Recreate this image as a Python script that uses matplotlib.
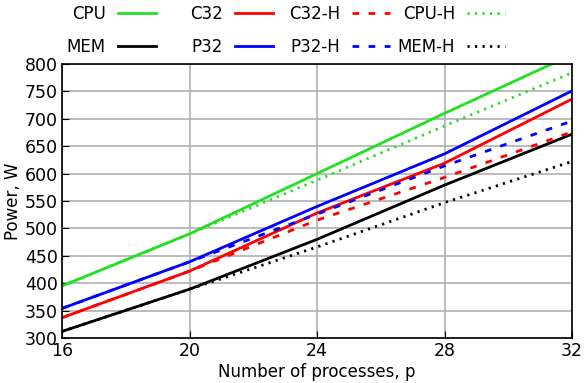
import matplotlib
matplotlib.use("Agg")
import matplotlib.pyplot as plt

# ======================
# Data
# ======================
procs = [16, 20, 24, 28, 32]

cpu = [395, 490, 600, 710, 817]
mem = [312, 389, 480, 579, 672]
c32 = [337, 422, 528, 619, 736]
p32 = [354, 439, 540, 636, 751]

c32_h = [337, 422, 515, 593, 676]
p32_h = [354, 439, 526, 614, 696]
cpu_h = [395, 490, 588, 687, 784]
mem_h = [312, 389, 466, 547, 622]

GREEN = '#22e022'
DASH = (2.4, 3.4)
DOT = (0.8, 1.9)

# ======================
# Figure
# ======================
plt.rcParams['font.family'] = 'DejaVu Sans'
plt.rcParams['font.size'] = 12

fig = plt.figure(figsize=(5.84, 3.83), dpi=100)
ax = fig.add_axes([62 / 584, 1 - 338 / 383, 510 / 584, 274 / 383])

l_cpu, = ax.plot(procs, cpu, color=GREEN, lw=2, label='CPU')
l_mem, = ax.plot(procs, mem, color='k', lw=2, label='MEM')
l_c32, = ax.plot(procs, c32, color='r', lw=2, label='C32')
l_p32, = ax.plot(procs, p32, color='b', lw=2, label='P32')
l_c32h, = ax.plot(procs, c32_h, color='r', lw=2, dashes=DASH, label='C32-H')
l_p32h, = ax.plot(procs, p32_h, color='b', lw=2, dashes=DASH, label='P32-H')
l_cpuh, = ax.plot(procs, cpu_h, color=GREEN, lw=2, dashes=DOT, label='CPU-H')
l_memh, = ax.plot(procs, mem_h, color='k', lw=2, dashes=DOT, label='MEM-H')

ax.set_xlim(16, 32)
ax.set_ylim(300, 800)
ax.set_xticks([16, 20, 24, 28, 32])
ax.set_yticks(range(300, 801, 50))
ax.tick_params(direction='in', length=5, labelsize=12.5, pad=3)
ax.grid(True, color='#b0b0b0', lw=1.2)
ax.set_axisbelow(True)
for s in ax.spines.values():
    s.set_linewidth(1.2)

ax.set_xlabel('Number of processes, p', fontsize=12, labelpad=2)
ax.set_ylabel('Power, W', fontsize=12, labelpad=2)

# legend: one small legend per column (columns are not evenly spaced)
columns = [
    ([l_cpu, l_mem], 156),
    ([l_c32, l_p32], 273),
    ([l_c32h, l_p32h], 390),
    ([l_cpuh, l_memh], 505),
]
for handles, right_px in columns:
    leg = fig.legend(handles=handles, loc='upper right',
                     bbox_to_anchor=(right_px / 584, 1 - 5 / 383),
                     frameon=False, markerfirst=False, fontsize=12,
                     handlelength=2.3, handletextpad=0.7,
                     labelspacing=0.9, borderpad=0.0, borderaxespad=0.0)

fig.savefig('out.png', dpi=100)
